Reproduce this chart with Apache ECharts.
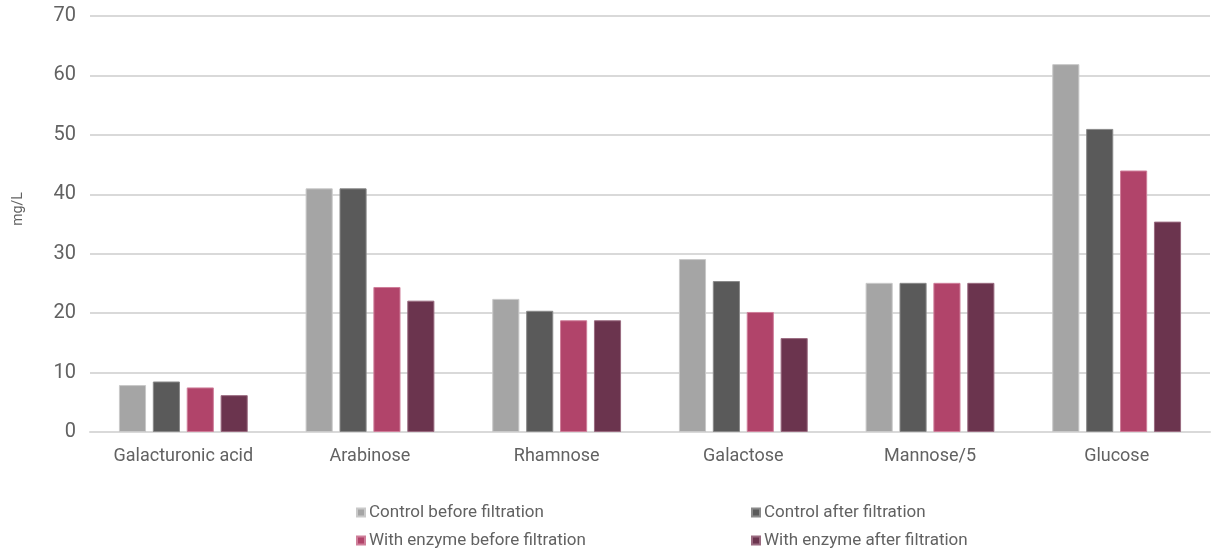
<!DOCTYPE html>
<html>
<head>
<meta charset="utf-8">
<script src="https://cdn.jsdelivr.net/npm/echarts@6/dist/echarts.min.js"></script>
<style>
  html, body { margin: 0; padding: 0; background: #ffffff; }
  #chart { width: 1211px; height: 553px; }
</style>
</head>
<body>
<div id="chart"></div>
<script>
// Sugar concentrations (mg/L) per monosaccharide
const categories = ['Galacturonic acid', 'Arabinose', 'Rhamnose', 'Galactose', 'Mannose/5', 'Glucose'];
const controlBefore = [7.9, 41.0, 22.4, 29.1, 25.1, 61.9];
const controlAfter = [8.5, 41.0, 20.4, 25.4, 25.1, 51.0];
const enzymeBefore = [7.5, 24.4, 18.8, 20.2, 25.1, 44.0];
const enzymeAfter = [6.2, 22.1, 18.8, 15.8, 25.1, 35.4];
const seriesNames = ['Control before filtration', 'Control after filtration', 'With enzyme before filtration', 'With enzyme after filtration'];
const axisTitle = 'mg/L';
const seriesColors = ['#a5a5a5', '#5a5a5a', '#b1446a', '#6b344e'];
const borderColors = ['#c9c9c9', '#8a8a8a', '#cf7f9a', '#9a6b80'];

const FONT = 'Roboto';
const TEXT = '#626262';

const chart = echarts.init(document.getElementById('chart'));

const values = [controlBefore, controlAfter, enzymeBefore, enzymeAfter];
const series = values.map((d, i) => ({
  name: seriesNames[i],
  type: 'bar',
  data: d,
  barGap: '25%',
  barCategoryGap: '31%',
  itemStyle: { color: seriesColors[i], borderColor: borderColors[i], borderWidth: 1 }
}));

// Legend laid out as a 2x2 grid: one legend block per entry
const legendSlots = [
  { left: 351, top: 499 },  // Control before
  { left: 746, top: 499 },  // Control after
  { left: 351, top: 527 },  // Enzyme before
  { left: 746, top: 527 }   // Enzyme after
];
const legends = seriesNames.map((name, i) => ({
  data: [name],
  left: legendSlots[i].left,
  top: legendSlots[i].top,
  itemWidth: 8, itemHeight: 8,
  icon: 'rect',
  selectedMode: false,
  textStyle: { fontFamily: FONT, fontSize: 17, color: TEXT, padding: [0, 0, 0, -1] }
}));

chart.setOption({
  animation: false,
  textStyle: { fontFamily: FONT },
  grid: { left: 90, right: 1, top: 16, bottom: 121, containLabel: false, outerBoundsMode: 'none' },
  legend: legends,
  graphic: [{
    type: 'text',
    x: 18, y: 209,
    rotation: Math.PI / 2,
    style: {
      text: axisTitle,
      fill: TEXT,
      font: '14px ' + FONT,
      textAlign: 'center',
      textVerticalAlign: 'middle'
    }
  }],
  xAxis: {
    type: 'category',
    data: categories,
    axisLine: { show: true, lineStyle: { color: '#d9d9d9', width: 2 } },
    axisTick: { show: false },
    axisLabel: { color: TEXT, fontSize: 18, margin: 15, fontFamily: FONT }
  },
  yAxis: {
    type: 'value',
    min: 0, max: 70, interval: 10,
    axisLine: { show: false },
    axisTick: { show: false },
    axisLabel: { color: TEXT, fontSize: 20, margin: 14, fontFamily: FONT },
    splitLine: { lineStyle: { color: '#d9d9d9', width: 2 } }
  },
  series: series
});
</script>
</body>
</html>
